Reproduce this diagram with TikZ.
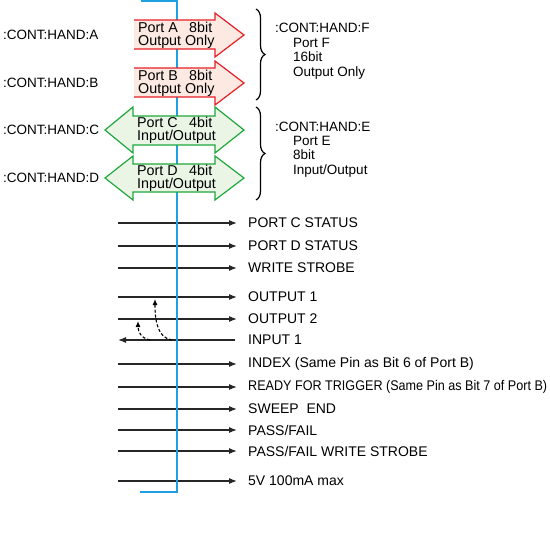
\documentclass[tikz,border=0pt]{standalone}
\usepackage{fontspec}
\setmainfont{Liberation Sans}
\usetikzlibrary{arrows.meta, decorations.pathreplacing, calc}
\definecolor{busblue}{RGB}{30,160,225}
\definecolor{outred}{RGB}{232,30,40}
\definecolor{outfill}{RGB}{252,234,226}
\definecolor{iogreen}{RGB}{30,168,60}
\definecolor{iofill}{RGB}{234,245,230}

\begin{document}
\begin{tikzpicture}[
  x=1pt, y=-1pt,
  every node/.style={font=\fontsize{13.5}{14.5}\selectfont, inner sep=0pt},
  lbl/.style={anchor=west},
  siglbl/.style={anchor=west, font=\fontsize{14}{15}\selectfont},
  porttext/.style={anchor=west, align=left, font=\fontsize{14.3}{13}\selectfont},
  sigline/.style={-{Latex[length=8pt, width=6pt]}, line width=1.1pt, draw=black!85},
  hint/.style={-{Latex[length=6pt, width=5pt]}, dash pattern=on 3pt off 2pt, line width=1.1pt},
  outport/.style={draw=outred, fill=outfill, line width=1.2pt},
  ioport/.style={draw=iogreen, fill=iofill, line width=1.2pt},
  grp/.style={decorate, decoration={brace, amplitude=9pt}, line width=1.2pt}
]
\useasboundingbox (0,0) rectangle (550,544);

% bus line
\coordinate (bus0) at (141,1);
\coordinate (bus1) at (177,1);
\coordinate (bus2) at (177,492);
\coordinate (bus3) at (140,492);
\draw[busblue, line width=1.3pt] (bus0) -- (bus1) -- (bus2) -- (bus3);

% output ports A and B
\fill[outfill] (134,20) -- (215,20) -- (215,13) -- (244,35) -- (215,57) -- (215,49) -- (134,49) -- cycle;
\draw[outport, fill=none] (134,20) -- (215,20) -- (215,13) -- (244,35) -- (215,57) -- (215,49) -- (134,49);
\fill[outfill] (134,68) -- (215,68) -- (215,61) -- (244,83) -- (215,105) -- (215,97) -- (134,97) -- cycle;
\draw[outport, fill=none] (134,68) -- (215,68) -- (215,61) -- (244,83) -- (215,105) -- (215,97) -- (134,97);

% input/output ports C and D
\draw[ioport] (105,130) -- (133,107) -- (133,116) -- (215,116) -- (215,107) -- (244,130)
  -- (215,153) -- (215,145) -- (133,145) -- (133,153) -- cycle;
\draw[ioport] (105,178) -- (133,156) -- (133,164) -- (215,164) -- (215,156) -- (244,178)
  -- (215,200) -- (215,192) -- (133,192) -- (133,200) -- cycle;

\node[porttext] (pa) at (138,35) {\makebox[51pt][l]{Port A}8bit\\Output Only};
\node[porttext] (pb) at (138,83) {\makebox[51pt][l]{Port B}8bit\\Output Only};
\node[porttext] (pc) at (137,130.5) {\makebox[52pt][l]{Port C}4bit\\Input/Output};
\node[porttext] (pd) at (137,178) {\makebox[52pt][l]{Port D}4bit\\Input/Output};

\node[lbl] (ha) at (3,35) {:CONT:HAND:A};
\node[lbl] (hb) at (3,83) {:CONT:HAND:B};
\node[lbl] (hc) at (3,130) {:CONT:HAND:C};
\node[lbl] (hd) at (3,178) {:CONT:HAND:D};

% groups
\coordinate (gf0) at (256,9);
\coordinate (gf1) at (256,100);
\coordinate (ge0) at (256,107);
\coordinate (ge1) at (256,200);
\draw[grp] (gf0) -- (gf1);
\draw[grp] (ge0) -- (ge1);
\node[lbl] (hf) at (275,28) {:CONT:HAND:F};
\node[lbl, align=left] (pf) at (293,58.5) {Port F\\16bit\\Output Only};
\node[lbl] (he) at (275,127) {:CONT:HAND:E};
\node[lbl, align=left] (pe) at (293,156.5) {Port E\\8bit\\Input/Output};

% signals
\node[siglbl] (cstat) at (248,223) {PORT C STATUS};
\node[siglbl] (dstat) at (248,246) {PORT D STATUS};
\node[siglbl] (wstb) at (248,268) {WRITE STROBE};
\node[siglbl] (out1) at (248,297) {OUTPUT 1};
\node[siglbl] (out2) at (248,319) {OUTPUT 2};
\node[siglbl] (in1) at (248,340) {INPUT 1};
\node[siglbl] (idx) at (248,364) {INDEX (Same Pin as Bit 6 of Port B)};
\node[siglbl] (rdy) at (248,387) {\scalebox{0.9}[1]{READY FOR TRIGGER (Same Pin as Bit 7 of Port B)}};
\node[siglbl] (swp) at (248,409) {SWEEP\ \ END};
\node[siglbl] (pf1) at (248,430) {PASS/FAIL};
\node[siglbl] (pfw) at (248,451) {PASS/FAIL WRITE STROBE};
\node[siglbl] (pwr) at (248,481) {5V 100mA max};

\coordinate (cstat0) at (118,223);
\coordinate (dstat0) at (118,246);
\coordinate (wstb0) at (118,268);
\coordinate (out10) at (118,297);
\coordinate (out20) at (118,319);
\coordinate (in10) at (118,340);
\coordinate (idx0) at (118,364);
\coordinate (rdy0) at (118,387);
\coordinate (swp0) at (118,409);
\coordinate (pf10) at (118,430);
\coordinate (pfw0) at (118,451);
\coordinate (pwr0) at (118,481);

\draw[sigline] (cstat0) -- ([xshift=-11pt]cstat.west);
\draw[sigline] (dstat0) -- ([xshift=-11pt]dstat.west);
\draw[sigline] (wstb0) -- ([xshift=-11pt]wstb.west);
\draw[sigline] (out10) -- ([xshift=-11pt]out1.west);
\draw[sigline] (out20) -- ([xshift=-11pt]out2.west);
\draw[sigline] ([xshift=-13pt]in1.west) -- (in10);
\draw[sigline] (idx0) -- ([xshift=-11pt]idx.west);
\draw[sigline] (rdy0) -- ([xshift=-11pt]rdy.west);
\draw[sigline] (swp0) -- ([xshift=-11pt]swp.west);
\draw[sigline] (pf10) -- ([xshift=-11pt]pf1.west);
\draw[sigline] (pfw0) -- ([xshift=-11pt]pfw.west);
\draw[sigline] (pwr0) -- ([xshift=-11pt]pwr.west);

% loop-back hints
\coordinate (lb1) at (172,340);
\coordinate (lb1e) at (155,299);
\coordinate (lb2) at (150,340);
\coordinate (lb2e) at (138,321);
\draw[hint] (lb1) .. controls (158,338) and (155,322) .. (lb1e);
\draw[hint] (lb2) .. controls (141,338) and (138,332) .. (lb2e);

% bus drawn over signal lines
\draw[busblue, line width=1.3pt] (177,205) -- (bus2);
\end{tikzpicture}
\end{document}
